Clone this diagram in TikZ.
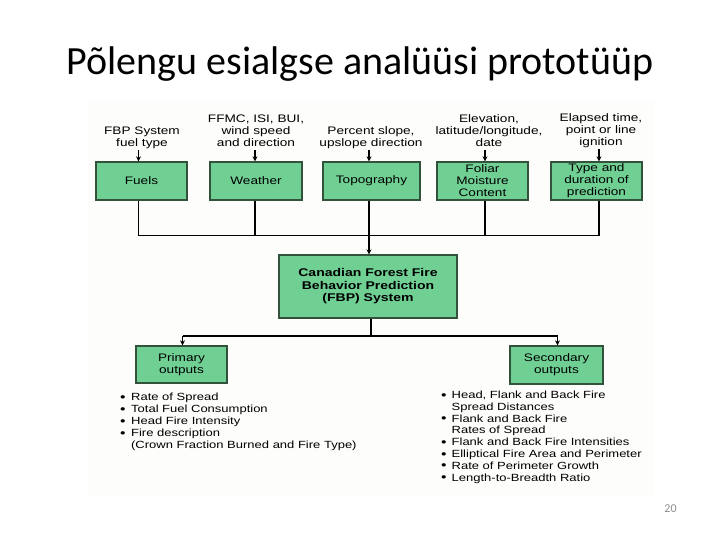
\documentclass[tikz,border=0pt]{standalone}
\usepackage{fontspec}
\newfontfamily\diag[FakeStretch=1.25]{Liberation Sans}
\newfontfamily\slidefont{Carlito}
\usetikzlibrary{arrows.meta}
\definecolor{boxfill}{RGB}{112,208,148}
\definecolor{boxdraw}{RGB}{50,82,60}
\definecolor{imgbg}{RGB}{253,254,251}
\definecolor{pagegray}{RGB}{140,140,140}
\newcommand{\bul}{\smash{\fontsize{12.5}{11}\selectfont\raisebox{-0.6pt}{•}}}
\begin{document}
\begin{tikzpicture}[x=1pt,y=-1pt,
  box/.style={draw=boxdraw, line width=1.3pt, fill=boxfill, inner sep=0pt, align=center, font=\diag\fontsize{10.9}{12}\selectfont},
  lbl/.style={inner sep=0pt, align=center, anchor=south, font=\diag\fontsize{10.9}{12}\selectfont},
  conn/.style={line width=1.2pt, black},
  arr/.style={conn, -{Stealth[length=5pt,width=5pt]}},
  lst/.style={inner sep=0pt, anchor=base west}]
\useasboundingbox (0,0) rectangle (720,540);
\fill[imgbg] (88,100) rectangle (654,495);

% title and page number
\node[anchor=base, font=\slidefont\fontsize{40}{48}\selectfont, inner sep=0pt] (title) at (360,75) {Põlengu esialgse analüüsi prototüüp};
\node[font=\slidefont\fontsize{12}{14}\selectfont, text=pagegray, inner sep=0pt] (pnum) at (670.5,509) {20};

% top input labels
\node[lbl] (lfuels) at (142,150) {FBP System\\fuel type\strut};
\node[lbl] (lweather) at (256,150) {FFMC, ISI, BUI,\\wind speed\\and direction\strut};
\node[lbl] (ltopo) at (371,150) {Percent slope,\\upslope direction\strut};
\node[lbl] (lfoliar) at (489,150) {Elevation,\\latitude/longitude,\\date\strut};
\node[lbl] (ltype) at (601,149) {Elapsed time,\\point or line\\ignition\strut};

% top boxes
\node[box, minimum width=91, minimum height=38] (fuels) at (141.5,181) {Fuels};
\node[box, minimum width=92, minimum height=38] (weather) at (256,181) {Weather};
\node[box, minimum width=97, minimum height=38] (topo) at (371.5,181) {Topography};
\node[box, minimum width=91, minimum height=38] (foliar) at (482.5,181) {Foliar\\Moisture\\Content};
\node[box, minimum width=91, minimum height=38] (type) at (596.5,181) {Type and\\duration of\\prediction};

% junction points
\coordinate (jF) at (138.5,235.5);
\coordinate (jW) at (255,235.5);
\coordinate (jT) at (369,235.5);
\coordinate (jM) at (485,235.5);
\coordinate (jY) at (599,235.5);

% arrows from labels to boxes
\draw[arr] (lfuels.south -| jF) -- (fuels.north -| jF);
\draw[arr] (lweather.south -| jW) -- (weather.north -| jW);
\draw[arr] (ltopo.south -| jT) -- (topo.north -| jT);
\draw[arr] (lfoliar.south -| jM) -- (foliar.north -| jM);
\draw[arr] (ltype.south -| jY) -- (type.north -| jY);

% central box
\node[box, font=\diag\bfseries\fontsize{11.2}{12.5}\selectfont, minimum width=178, minimum height=63] (fbp) at (368,286.5) {Canadian Forest Fire\\Behavior Prediction\\(FBP) System};

% collector lines
\draw[conn] (fuels.south -| jF) -- (jF);
\draw[conn] (weather.south -| jW) -- (jW);
\draw[conn] (topo.south -| jT) -- (jT);
\draw[conn] (foliar.south -| jM) -- (jM);
\draw[conn] (type.south -| jY) -- (jY);
\draw[conn] (jF) -- (jY);
\draw[arr] (jT) -- (fbp.north -| jT);

% outputs
\node[box, minimum width=91, minimum height=37] (prim) at (181.5,364.5) {Primary\\outputs};
\node[box, minimum width=93, minimum height=38] (sec) at (556.5,365) {Secondary\\outputs};

\coordinate (jO) at (371,336);
\coordinate (jP) at (182.5,336);
\coordinate (jS) at (557.5,336);
\draw[conn] (fbp.south -| jO) -- (jO);
\draw[conn] (jP) -- (jS);
\draw[arr] (jP) -- (prim.north -| jP);
\draw[arr] (jS) -- (sec.north -| jS);

% lists
\node[lst, font=\diag\fontsize{10.4}{12}\selectfont] (plist) at (120,400.5) {\begin{tabular}[t]{@{}l@{\hspace{5.5pt}}l@{}}
\bul&Rate of Spread\\
\bul&Total Fuel Consumption\\
\bul&Head Fire Intensity\\
\bul&Fire description\\
&(Crown Fraction Burned and Fire Type)
\end{tabular}};
\node[lst, font=\diag\fontsize{10.4}{11.8}\selectfont] (slist) at (441,398.5) {\begin{tabular}[t]{@{}l@{\hspace{5pt}}l@{}}
\bul&Head, Flank and Back Fire\\
&Spread Distances\\
\bul&Flank and Back Fire\\
&Rates of Spread\\
\bul&Flank and Back Fire Intensities\\
\bul&Elliptical Fire Area and Perimeter\\
\bul&Rate of Perimeter Growth\\
\bul&Length-to-Breadth Ratio
\end{tabular}};
\end{tikzpicture}
\end{document}
